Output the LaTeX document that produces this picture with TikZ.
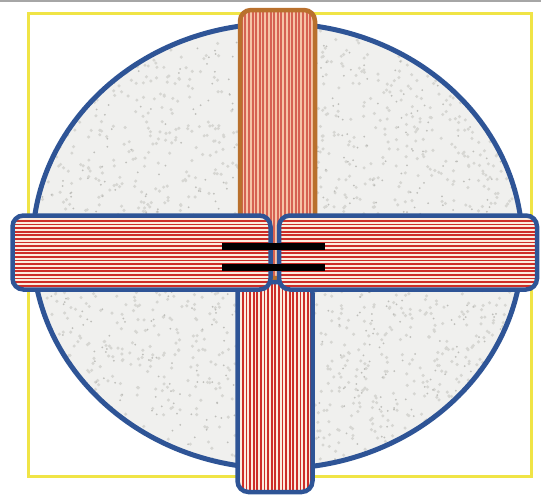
\documentclass[tikz,border=0pt]{standalone}
\usetikzlibrary{positioning,shapes.geometric}
\definecolor{discblue}{RGB}{46,84,150}
\definecolor{boxyellow}{RGB}{240,228,70}
\definecolor{stone}{RGB}{240,240,238}
\definecolor{speck}{RGB}{214,214,210}
\definecolor{speckdark}{RGB}{190,190,186}
\definecolor{stripered}{RGB}{205,45,40}
\definecolor{stripecream}{RGB}{252,236,222}
\definecolor{barbrown}{RGB}{185,112,45}
\definecolor{salmon}{RGB}{214,98,82}
\definecolor{salmonbg}{RGB}{246,196,166}

\begin{document}
\begin{tikzpicture}[x=1pt,y=-1pt,
    bar/.style={draw=discblue, line width=4.5pt, rounded corners=11pt, inner sep=0pt},
    hstripes/.style={path picture={
      \foreach \k in {1.8,5.4,...,100}
        \draw[#1, line width=1.9pt] ([yshift=-\k pt]path picture bounding box.north west)
          -- ([yshift=-\k pt]path picture bounding box.north east);}},
    vstripes/.style={path picture={
      \foreach \k in {1.8,5.4,...,100}
        \draw[#1, line width=1.9pt] ([xshift=\k pt]path picture bounding box.north west)
          -- ([xshift=\k pt]path picture bounding box.south west);}},
    hbar/.style={bar, fill=stripecream, hstripes=stripered, minimum width=258pt, minimum height=74pt},
    vbar/.style={bar, minimum width=75pt},
    eqline/.style={fill=black, inner sep=0pt, minimum width=103pt, minimum height=7pt}]
  \useasboundingbox (0,0) rectangle (541,496);
  % top rule and frame
  \draw[gray!70, line width=2pt] (0,0.5) -- (541,0.5);
  \node[draw=boxyellow, line width=2.2pt, inner sep=0pt, minimum width=503pt, minimum height=463pt] (frame) at (280,245) {};
  % the stone disc
  \pgfmathsetseed{11}
  \node[ellipse, draw=discblue, line width=5pt, fill=stone, inner sep=0pt,
    minimum width=490pt, minimum height=445pt,
    path picture={
      \foreach \i in {1,...,1800}
        \fill[speck] ([shift={(rand*245,rand*223)}]path picture bounding box.center) circle (1.7pt);
      \foreach \i in {1,...,700}
        \fill[speckdark] ([shift={(rand*245,rand*223)}]path picture bounding box.center) circle (1pt);
    }] (disc) at (277.5,246) {};
  % the four bars
  \node[vbar, draw=barbrown, fill=salmonbg, vstripes=salmon, minimum height=268pt] (topbar) at (277.5,144) {};
  \node[vbar, fill=stripecream, vstripes=stripered, minimum height=210pt] (bottombar) at (275,387) {};
  \node[hbar] (leftbar) at (141.5,252.5) {};
  \node[hbar] (rightbar) at (408,252.5) {};
  % equal sign
  \node[eqline] (equpper) at (273.5,246.5) {};
  \node[eqline] (eqlower) at (273.5,267) {};
\end{tikzpicture}
\end{document}
